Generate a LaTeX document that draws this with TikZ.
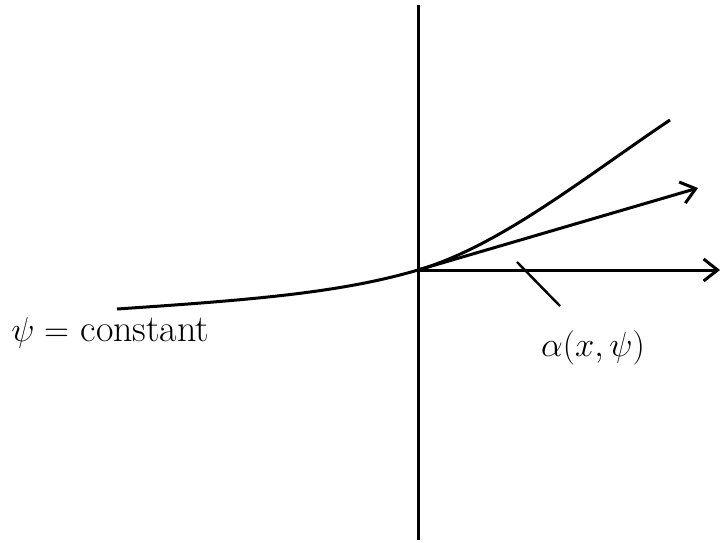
\documentclass[tikz,border=0pt]{standalone}
\usetikzlibrary{arrows.meta}
\begin{document}
\begin{tikzpicture}[x=0.5pt,y=-0.5pt,
  ln/.style={line width=1.5pt,black},
  arr/.style={ln,-{Straight Barb[length=7pt,width=11pt,line width=1.5pt]}},
  lbl/.style={inner sep=0pt,font=\fontsize{19}{22}\selectfont}]
\useasboundingbox (0,0) rectangle (722,542);
\coordinate (O) at (418,270);
\coordinate (T) at (418,5);
\coordinate (B) at (418,540);
\coordinate (L) at (117,309);
\coordinate (R) at (670,120);
\coordinate (H) at (720,270);
\coordinate (A) at (698,188);
\coordinate (s) at (517,262);
\coordinate (e) at (560,306);
\draw[ln] (T) -- (B);
\draw[ln] (L) .. controls (250,300) and (340,293) .. (O) .. controls (500,246) and (585,177) .. (R);
\draw[arr] (O) -- (H);
\draw[arr] (O) -- (A);
\draw[ln,line width=1.2pt] (s) -- (e);
\node[lbl,anchor=base west] (psi) at (11,341) {$\psi=$ constant};
\node[lbl,anchor=base,font=\fontsize{18}{21}\selectfont] (alpha) at (593,356) {$\alpha(x,\psi)$};
\end{tikzpicture}
\end{document}
